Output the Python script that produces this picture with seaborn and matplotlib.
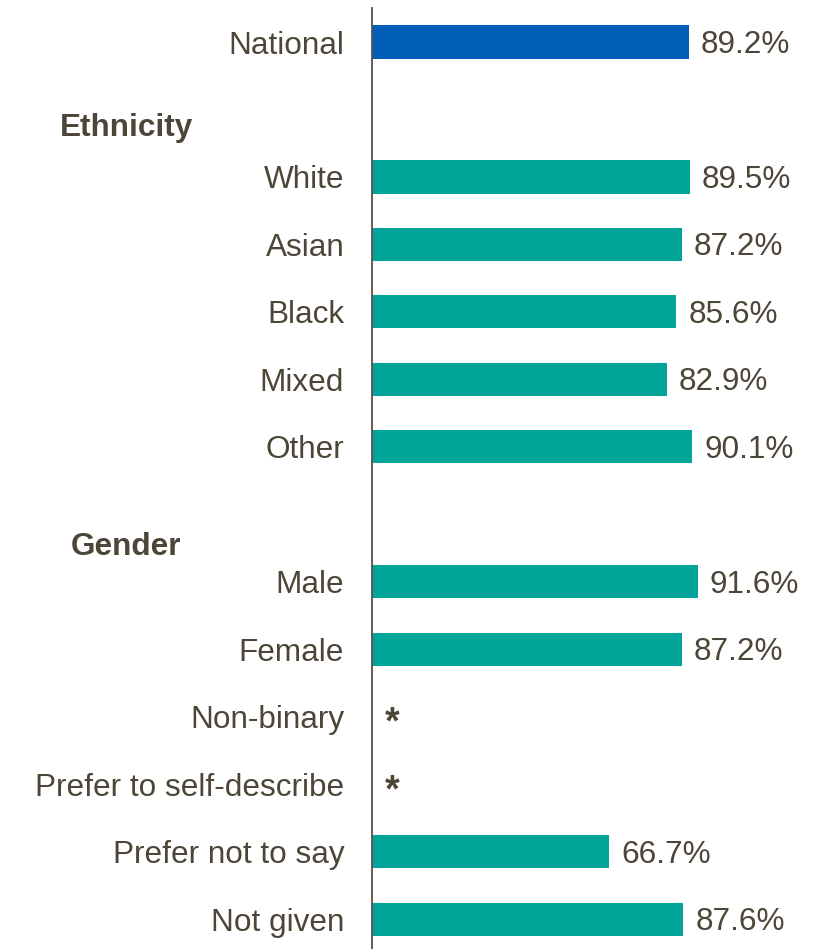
import numpy as np
import pandas as pd
import matplotlib
matplotlib.use("Agg")
import matplotlib.pyplot as plt
import seaborn as sns

categories = ["National", "White", "Asian", "Black", "Mixed", "Other",
              "Male", "Female", "Non-binary", "Prefer to self-describe",
              "Prefer not to say", "Not given"]
values = [89.2, 89.5, 87.2, 85.6, 82.9, 90.1,
          91.6, 87.2, np.nan, np.nan, 66.7, 87.6]
groups = ["National", "Ethnicity", "Ethnicity", "Ethnicity", "Ethnicity", "Ethnicity",
          "Gender", "Gender", "Gender", "Gender", "Gender", "Gender"]
row_pos = [0, 2, 3, 4, 5, 6, 8, 9, 10, 11, 12, 13]
headers = ["Ethnicity", "Gender"]
header_pos = [1.28, 7.48]

sns.set_theme(style="white")
plt.rcParams["font.family"] = ["Liberation Sans", "DejaVu Sans"]

TXT = "#4D4638"
BLUE = "#005EB8"
TEAL = "#00A499"

df = pd.DataFrame({"cat": categories, "val": values, "grp": groups, "pos": row_pos})
df["colorgrp"] = np.where(df["grp"] == "National", "National", "Other")

fig = plt.figure(figsize=(8.21, 9.49), dpi=100)
ax = fig.add_axes([372 / 821, 0.0, 1 - 372 / 821, 1 - 8 / 949])

sns.barplot(data=df.dropna(subset=["val"]), x="val", y="pos", hue="colorgrp",
            palette={"National": BLUE, "Other": TEAL}, orient="h",
            native_scale=True, dodge=False, width=0.49, legend=False, ax=ax,
            saturation=1, linewidth=0)

fs = 22.7
for c, v, p in zip(categories, values, row_pos):
    if np.isnan(v):
        ax.annotate("*", xy=(0, p), xytext=(9.5, -5), textcoords="offset points",
                    va="center", ha="left", fontsize=27, color=TXT, fontweight="bold")
    else:
        ax.annotate(f"{v:.1f}%", xy=(v, p), xytext=(8.6, -2), textcoords="offset points",
                    va="center", ha="left", fontsize=fs, color=TXT)

ax.set_yticks(row_pos)
ax.set_yticklabels(categories, fontsize=fs, color=TXT)
ax.tick_params(axis="y", length=0, pad=20)
ax.set_xticks([])
ax.set_xlim(0, 126.3)
ax.set_ylim(13.44, -0.504)
ax.set_xlabel("")
ax.set_ylabel("")
for s in ["top", "right", "bottom"]:
    ax.spines[s].set_visible(False)
ax.spines["left"].set_color("#5A5246")
ax.spines["left"].set_linewidth(1.3)

for h, p in zip(headers, header_pos):
    ax.text(126 / 821, 1 - (42 + 67.5 * p) / 949, h, transform=fig.transFigure,
            ha="center", va="center", fontsize=fs, fontweight="bold", color=TXT)

fig.savefig("out.png", dpi=100)
